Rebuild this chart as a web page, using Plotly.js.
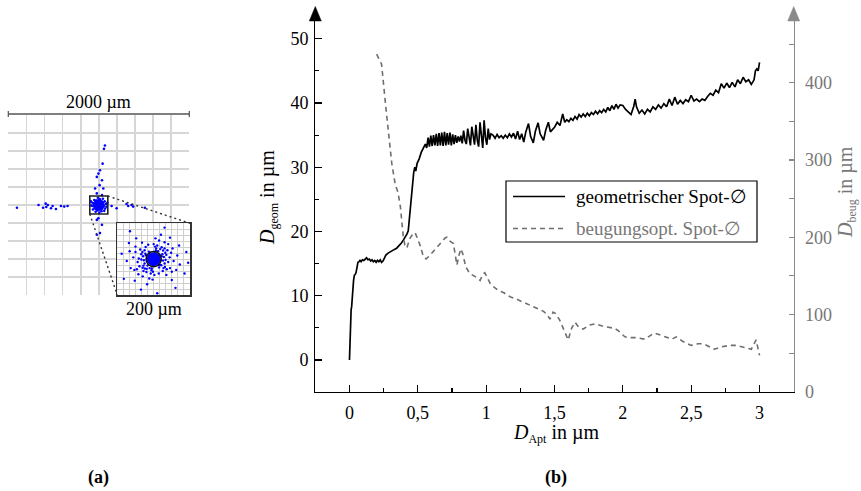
<!DOCTYPE html>
<html>
<head>
<meta charset="utf-8">
<script src="https://cdn.plot.ly/plotly-3.0.1.min.js"></script>
<style>html,body{margin:0;padding:0;background:#fff;}</style>
</head>
<body>
<div id="chart" style="width:861px;height:491px;"></div>
<script>
// ---------- data (b): geometric spot diameter (left axis) ----------
const geomX = [
  0,0.004,0.008,0.012,0.016,0.02,0.025,0.03,0.036,0.042,0.048,0.055,0.062,0.07,0.077,0.085,0.095,0.105,0.115,0.125,0.135,0.145,0.155,0.165,0.175,0.185,0.195,0.205,0.215,0.225,0.235,0.245,0.255,0.265,0.28,0.3,0.32,0.345,0.365,0.38,0.395,0.41,0.42,0.43,0.44,0.45,0.46,0.47,0.478,0.485,0.495,0.51,0.525,0.54,0.555,
  0.565,0.575,0.585,0.595,0.605,0.615,0.625,0.635,0.645,0.655,0.665,0.675,0.685,0.695,0.705,0.715,0.725,0.735,0.745,0.755,0.765,0.775,0.785,0.795,0.805,0.815,0.825,0.835,0.845,0.855,0.865,0.875,0.885,0.895,0.905,0.915,0.925,0.935,0.945,0.955,0.965,0.975,0.985,0.995,1.005,1.015,1.025,1.035,
  1.05,1.065,1.08,1.095,1.11,1.125,1.14,1.155,1.17,1.185,1.2,1.215,1.23,1.245,1.26,1.275,1.29,1.31,1.325,1.345,1.36,1.38,1.395,1.41,1.42,1.435,1.455,1.47,1.485,1.5,
  1.52,1.54,1.56,1.575,1.59,1.605,1.62,1.635,1.65,1.665,1.68,1.695,1.71,1.725,1.74,1.755,1.77,1.785,1.8,1.815,1.83,1.845,1.86,1.875,1.89,1.905,1.92,1.935,1.95,1.965,1.98,
  2.0,2.02,2.04,2.06,2.08,2.09,2.1,2.12,2.14,2.16,2.18,2.2,2.22,2.24,2.26,2.28,2.3,2.32,2.34,2.36,2.38,2.4,2.42,2.44,2.46,2.48,2.5,2.52,2.54,2.56,2.58,2.6,2.62,2.64,2.66,2.68,2.7,2.72,2.74,2.76,2.78,2.8,2.82,2.84,2.86,2.88,2.9,2.92,2.94,2.96,2.97,2.98,2.99,3.0
];
const geomY = [
  0,4.8,7.4,7.8,8.3,10.2,11.8,12.4,13.2,13.3,13.6,14.6,15.2,15.3,15.5,15.3,15.6,15.5,15.7,15.9,15.6,15.7,15.4,15.6,15.3,15.5,15.2,15.5,15.3,15.6,15.2,15.4,15.8,16.3,16.6,16.9,17.1,17.4,17.8,18.2,18.7,19.2,19.6,20.1,22.5,25.2,27.6,29.2,30.0,29.4,30.6,31.3,32.3,33.0,33.6,
  33.0,34.6,33.2,34.9,33.3,35.0,33.4,35.2,33.3,35.3,33.4,35.4,33.3,35.5,33.4,35.3,33.5,35.4,33.4,35.1,33.6,35.0,33.8,34.8,34.0,34.9,33.7,35.7,34.2,33.6,36.0,34.5,33.4,36.3,34.4,33.5,36.6,34.2,33.2,37.0,35.0,33.0,37.3,34.6,33.5,36.0,34.3,35.2,
  35.0,34.5,35.1,34.6,34.9,34.5,35.0,34.6,35.2,34.7,35.3,34.4,35.6,34.3,35.2,33.9,35.5,36.8,34.8,33.8,35.6,36.9,35.2,34.6,34.2,35.7,37.0,35.5,35.9,36.2,
  37.0,36.5,38.3,37.0,37.4,37.1,37.6,37.3,37.9,37.5,38.2,37.8,38.3,37.9,38.4,38.0,38.5,38.2,38.7,38.3,38.8,38.5,39.0,38.6,39.3,38.8,39.6,39.0,39.8,39.2,39.7,
  39.6,39.0,38.6,38.2,39.5,40.6,39.4,38.4,38.9,38.3,39.0,38.6,39.4,39.0,39.7,39.2,39.9,39.4,40.6,39.6,40.9,39.8,40.4,39.9,40.5,40.2,41.2,40.3,40.6,40.2,40.6,40.4,41.0,41.5,41.2,42.0,41.6,43.0,42.3,43.1,42.4,43.2,42.5,43.6,43.0,44.0,43.3,43.6,42.9,43.6,45.0,45.3,45.0,46.3
];
// ---------- data (b): diffraction spot diameter (right axis) ----------
const beugX = [0.199,0.235,0.265,0.29,0.31,0.335,0.355,0.372,0.383,0.393,0.405,0.42,0.44,0.46,0.48,0.5,0.52,0.54,0.56,0.58,0.61,0.64,0.67,0.7,0.713,0.735,0.76,0.775,0.786,0.8,0.815,0.83,0.85,0.88,0.92,0.956,0.975,0.99,1.01,1.03,1.06,1.09,1.13,1.175,1.22,1.27,1.32,1.37,1.42,1.445,1.467,1.49,1.51,1.54,1.57,1.6,1.625,1.65,1.675,1.71,1.75,1.8,1.85,1.9,1.94,1.966,2.015,2.06,2.1,2.16,2.23,2.28,2.32,2.36,2.39,2.44,2.5,2.55,2.59,2.63,2.67,2.72,2.78,2.83,2.88,2.94,2.975,3.0];
const beugY = [437,424,370,330,295,268,258,240,218,202,190,186,198,203,206,198,188,175,172,175,181,187,192,199,200,195,192,178,164,176,185,178,162,153,149,144,152,154,146,140,135,131,128,123,120,116,112,109,104,100,94,103,101,92,80,67,82,90,84,81,86,88,85,83,82,79,71,70,70,68,76,73,71,68,71,65,60,62,62,59,55,58,60,60,58,55,67,47];

// ---------- tick labels / legend text ----------
const xTickVals = [0,0.5,1,1.5,2,2.5,3];
const xTickText = ['0','0,5','1','1,5','2','2,5','3'];
const yLeftTicks = [0,10,20,30,40,50];
const yRightTicks = [0,100,200,300,400];
const seriesNames = ['geometrischer Spot-∅', 'beugungsopt. Spot-∅'];

// ---------- data (a): spot diagram in µm ----------
const spotX = [-907,-668,-618,-589,-582,-565,-530,-512,-475,-420,-383,-346,
  142,197,307,326,363,381,510,
  68,57,42,13,-4,-22,35,9,-41,50,-22,35,
  -4,-22,35,13,-22,
  -60,-45,-30,-20,10,25,40,55,65,-70,-50,30,70,-35,5,80,-80,45,-10,60,-65,85,-85,95,-90];
const spotY = [-30,0,-30,15,-22,0,-37,-11,-44,-11,-18,-11,
  -11,-37,11,-11,0,-18,-30,
  663,626,461,387,350,313,276,221,184,184,129,110,
  -147,-166,-221,-313,-332,
  20,-35,50,-60,65,-45,30,-10,40,-10,55,-70,-40,-75,-85,10,30,70,80,-65,-50,-20,-5,25,45];
const spotCoreX = [0];
const spotCoreY = [0];
const insetX = [22,18,-21,-17,6,-5,26,-27,12,-13,15,-11,24,-23,21,-25,
  35,31,-34,-30,10,-8,40,-41,22,-22,25,-20,38,-37,36,-39,0,2,44,-44,30,-28,14,-15,
  48,45,-50,-46,15,-12,55,-56,30,-32,35,-30,52,-50,50,-53,5,-3,40,-42,
  65,62,-66,-63,20,-18,72,-74,45,-48,50,-52,70,-68,
  85,-88,30,-35,90,-82,60,-65,95,10,
  12,-10,8,-6,16,-15,3,-2,19,-18,14,-12,28,-29,7,-6,30,-28,18,-19,26,-25,27,-24,33,-34,4,-2,32,-31];
const insetY = [8,-16,11,-18,24,-26,-4,-3,22,21,-23,-25,14,15,-17,-12,
  12,-22,14,-24,38,-40,-8,2,33,34,-33,-36,25,27,-28,-20,42,-44,5,-8,30,-33,-40,40,
  18,-25,20,-28,52,-54,-5,5,47,46,-44,-48,30,35,-35,-30,58,-57,42,-42,
  10,-30,22,-25,68,-70,-15,-5,60,58,-58,-60,38,45,
  -40,15,88,-85,20,-55,-80,78,-10,-95,
  5,8,-12,-13,12,-6,17,-18,-3,2,-16,16,6,8,30,-31,-12,-18,28,-27,24,25,-25,-26,-2,-1,35,-35,18,20];
const insetCoreX = [0];
const insetCoreY = [0];
const geomCircleRadius = 21;

// ---------- layout helpers ----------
const W = 861, H = 491;
const fx = px => px / W;
const fy = py => 1 - py / H;
const FONT = '"Liberation Serif", "Times New Roman", Times, serif';
const GRAY = '#777777';
const LINEGRAY = '#6e6e6e';
const AXGRAY = '#8a8a8a';

const domB_x = [fx(315.3), fx(793.7)];
const domB_y = [fy(391.7), fy(20.7)];
const domA_x = [fx(8.3), fx(189.3)];
const domA_y = [fy(295), fy(115)];
const domI_x = [fx(117.3), fx(190)];
const domI_y = [fy(295), fy(223.3)];
const rangeA = [-1003, 1003];
const rangeI = [-100, 100];
const toPaper = (v, r, d) => d[0] + (v - r[0]) / (r[1] - r[0]) * (d[1] - d[0]);

const traces = [
  {x: geomX, y: geomY, xaxis: 'x', yaxis: 'y', type: 'scatter', mode: 'lines',
   name: seriesNames[0], showlegend: false,
   line: {color: '#000000', width: 1.7}},
  {x: beugX, y: beugY, xaxis: 'x', yaxis: 'y2', type: 'scatter', mode: 'lines',
   name: seriesNames[1], showlegend: false,
   line: {color: LINEGRAY, width: 1.6, dash: '5px,4px'}},
  {x: spotX, y: spotY, xaxis: 'x2', yaxis: 'y3', type: 'scatter', mode: 'markers',
   showlegend: false, marker: {color: '#0000ff', size: 2.6}},
  {x: spotCoreX, y: spotCoreY, xaxis: 'x2', yaxis: 'y3', type: 'scatter', mode: 'markers',
   showlegend: false, marker: {color: '#0000ff', size: 12}},
  {x: insetX, y: insetY, xaxis: 'x3', yaxis: 'y4', type: 'scatter', mode: 'markers',
   showlegend: false, marker: {color: '#0000ff', size: 2.4}},
  {x: insetCoreX, y: insetCoreY, xaxis: 'x3', yaxis: 'y4', type: 'scatter', mode: 'markers',
   showlegend: false, marker: {color: '#0000ff', size: 14}}
];

const boxTR = [toPaper(100, rangeA, domA_x), toPaper(100, rangeA, domA_y)];
const boxBL = [toPaper(-100, rangeA, domA_x), toPaper(-100, rangeA, domA_y)];
const insTR = [domI_x[1], domI_y[1]];
const insBL = [domI_x[0], domI_y[0]];

function tri(xc, ytip, ybase, hw) {
  return 'M ' + fx(xc) + ' ' + fy(ytip) + ' L ' + fx(xc - hw) + ' ' + fy(ybase) +
         ' L ' + fx(xc + hw) + ' ' + fy(ybase) + ' Z';
}

const shapes = [
  {type: 'path', xref: 'paper', yref: 'paper', path: tri(315.3, 6.5, 21, 6),
   fillcolor: '#000', line: {color: '#000', width: 0.5}},
  {type: 'path', xref: 'paper', yref: 'paper', path: tri(793.7, 6.5, 21, 6),
   fillcolor: AXGRAY, line: {color: AXGRAY, width: 0.5}},
  {type: 'rect', xref: 'x2', yref: 'y3', x0: -100, x1: 100, y0: -100, y1: 100,
   line: {color: '#222', width: 1.6}},
  {type: 'line', xref: 'paper', yref: 'paper', x0: boxTR[0], y0: boxTR[1], x1: insTR[0], y1: insTR[1],
   line: {color: '#333', width: 1.4, dash: '2px,3px'}},
  {type: 'line', xref: 'paper', yref: 'paper', x0: boxBL[0], y0: boxBL[1], x1: insBL[0], y1: insBL[1],
   line: {color: '#333', width: 1.4, dash: '2px,3px'}},
  {type: 'circle', xref: 'x3', yref: 'y4', x0: -geomCircleRadius, x1: geomCircleRadius,
   y0: -geomCircleRadius, y1: geomCircleRadius, line: {color: '#111', width: 1.5}},
  {type: 'line', xref: 'paper', yref: 'paper', x0: fx(8.3), x1: fx(189.3), y0: fy(114), y1: fy(114),
   line: {color: '#555', width: 1.5}},
  {type: 'line', xref: 'paper', yref: 'paper', x0: fx(8.3), x1: fx(8.3), y0: fy(111), y1: fy(117),
   line: {color: '#555', width: 1.2}},
  {type: 'line', xref: 'paper', yref: 'paper', x0: fx(189.3), x1: fx(189.3), y0: fy(111), y1: fy(117),
   line: {color: '#555', width: 1.2}},
  {type: 'rect', xref: 'paper', yref: 'paper', x0: fx(506), x1: fx(757), y0: fy(242), y1: fy(181),
   fillcolor: '#ffffff', line: {color: '#000', width: 1.2}},
  {type: 'line', xref: 'paper', yref: 'paper', x0: fx(513), x1: fx(565), y0: fy(196.5), y1: fy(196.5),
   line: {color: '#000', width: 1.7}},
  {type: 'line', xref: 'paper', yref: 'paper', x0: fx(513), x1: fx(565), y0: fy(228.5), y1: fy(228.5),
   line: {color: LINEGRAY, width: 1.6, dash: '5px,4px'}}
];

const ann = (x, y, text, opts) => Object.assign({xref: 'paper', yref: 'paper', x: fx(x), y: fy(y),
  text: text, showarrow: false, xanchor: 'center', yanchor: 'middle',
  font: {family: FONT, size: 18, color: '#000'}}, opts || {});

const annotations = [
  ann(98.8, 102, '2000 µm'),
  ann(154, 309, '200 µm'),
  ann(98, 477, '<b>(a)</b>'),
  ann(556, 477, '<b>(b)</b>'),
  ann(269, 198, '<i>D</i><sub><span style="font-size:12px">geom</span></sub> in µm',
      {textangle: -90, font: {family: FONT, size: 20, color: '#000'}}),
  ann(846, 192, '<i>D</i><sub><span style="font-size:12px">beug</span></sub> in µm',
      {textangle: -90, font: {family: FONT, size: 20, color: GRAY}}),
  ann(556, 433, '<i>D</i><sub><span style="font-size:12px">Apt</span></sub> in µm',
      {font: {family: FONT, size: 20, color: '#000'}}),
  ann(574, 196.5, seriesNames[0], {xanchor: 'left', font: {family: FONT, size: 19, color: '#000'}}),
  ann(574, 228.5, seriesNames[1], {xanchor: 'left', font: {family: FONT, size: 19, color: GRAY}})
];

const layout = {
  width: W, height: H,
  margin: {l: 0, r: 0, t: 0, b: 0, pad: 0},
  paper_bgcolor: '#ffffff', plot_bgcolor: 'white',
  separators: ',.',
  font: {family: FONT, size: 18, color: '#000'},
  showlegend: false,
  xaxis: {domain: domB_x, anchor: 'y', range: [-0.25, 3.25], tickmode: 'array',
    tickvals: xTickVals, ticktext: xTickText, ticks: 'inside', ticklen: 7, tickwidth: 1.2,
    tickcolor: '#000', showline: true, linecolor: '#000', linewidth: 1.3,
    showgrid: false, zeroline: false, ticklabelstandoff: 4,
    tickfont: {family: FONT, size: 18, color: '#000'},
    minor: {dtick: 0.25, tick0: 0, ticks: 'inside', ticklen: 4, tickwidth: 1.1, tickcolor: '#000', showgrid: false}},
  yaxis: {domain: domB_y, anchor: 'x', range: [-4.93, 52.8], tickmode: 'array', tickvals: yLeftTicks,
    ticks: 'inside', ticklen: 7, tickwidth: 1.2, tickcolor: '#000',
    showline: true, linecolor: '#000', linewidth: 1.3, showgrid: false, zeroline: false,
    tickfont: {family: FONT, size: 18, color: '#000'}, ticklabelstandoff: 2,
    minor: {dtick: 5, tick0: 0, ticks: 'inside', ticklen: 4, tickwidth: 1.1, tickcolor: '#000', showgrid: false}},
  yaxis2: {overlaying: 'y', side: 'right', anchor: 'x', range: [0, 480.3], tickmode: 'array',
    tickvals: yRightTicks, ticks: 'inside', ticklen: 5, tickwidth: 1.2, tickcolor: AXGRAY,
    showline: true, linecolor: AXGRAY, linewidth: 1.6, showgrid: false, zeroline: false,
    tickfont: {family: FONT, size: 18, color: GRAY}, ticklabelstandoff: 6,
    minor: {dtick: 50, tick0: 0, ticks: 'inside', ticklen: 5, tickwidth: 1.1, tickcolor: AXGRAY, showgrid: false}},
  xaxis2: {domain: domA_x, anchor: 'y3', range: rangeA, tickmode: 'linear', tick0: 0, dtick: 200,
    showgrid: true, gridcolor: '#d6d6d6', gridwidth: 1.5, showticklabels: false, ticks: '',
    zeroline: false, showline: false},
  yaxis3: {domain: domA_y, anchor: 'x2', range: rangeA, tickmode: 'linear', tick0: 0, dtick: 200,
    showgrid: true, gridcolor: '#d6d6d6', gridwidth: 1.5, showticklabels: false, ticks: '',
    zeroline: false, showline: false},
  xaxis3: {domain: domI_x, anchor: 'y4', range: rangeI, tickmode: 'linear', tick0: 0, dtick: 200 / 12,
    showgrid: true, gridcolor: '#cfcfcf', gridwidth: 1, showticklabels: false, ticks: '',
    zeroline: false, showline: true, mirror: true, linecolor: '#333', linewidth: 1.8},
  yaxis4: {domain: domI_y, anchor: 'x3', range: rangeI, tickmode: 'linear', tick0: 0, dtick: 200 / 12,
    showgrid: true, gridcolor: '#cfcfcf', gridwidth: 1, showticklabels: false, ticks: '',
    zeroline: false, showline: true, mirror: true, linecolor: '#333', linewidth: 1.8},
  shapes: shapes,
  annotations: annotations
};

Plotly.newPlot('chart', traces, layout, {staticPlot: true, displayModeBar: false});
</script>
</body>
</html>
